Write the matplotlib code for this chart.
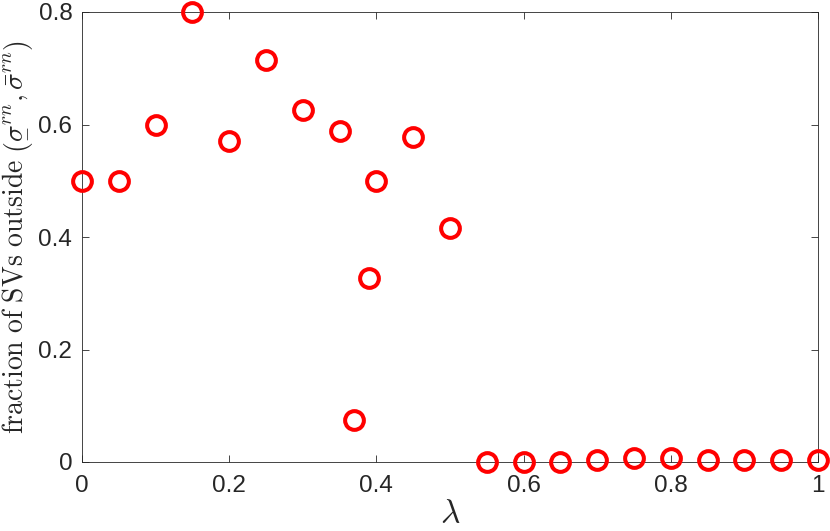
import matplotlib
matplotlib.use('Agg')
import matplotlib.pyplot as plt

# lambda values and fraction of SVs outside the interval
lam = [0.0, 0.05, 0.1, 0.15, 0.2, 0.25, 0.3, 0.35, 0.37, 0.39, 0.4, 0.45, 0.5,
       0.55, 0.6, 0.65, 0.7, 0.75, 0.8, 0.85, 0.9, 0.95, 1.0]
frac = [0.5, 0.5, 0.6, 0.8, 0.5714, 0.7143, 0.625, 0.5882, 0.075, 0.327, 0.5, 0.5778, 0.4167,
        0.0, 0.0, 0.0, 0.004, 0.008, 0.007, 0.004, 0.004, 0.004, 0.004]
xticks = [0, 0.2, 0.4, 0.6, 0.8, 1]
xticklabels = ['0', '0.2', '0.4', '0.6', '0.8', '1']
yticks = [0, 0.2, 0.4, 0.6, 0.8]
yticklabels = ['0', '0.2', '0.4', '0.6', '0.8']

plt.rcParams['mathtext.fontset'] = 'cm'
plt.rcParams['font.family'] = ['Liberation Sans', 'DejaVu Sans']

fig = plt.figure(figsize=(8.3, 5.31), dpi=100)
ax = fig.add_axes([82 / 830, 69 / 531, 736 / 830, 450 / 531])

ax.plot(lam, frac, linestyle='none', marker='o', markersize=13.5,
        markerfacecolor='none', markeredgecolor='#ff0000', markeredgewidth=2.9,
        clip_on=False, zorder=5)

ax.set_xlim(0, 1)
ax.set_ylim(0, 0.8)
ax.set_xticks(xticks)
ax.set_xticklabels(xticklabels)
ax.set_yticks(yticks)
ax.set_yticklabels(yticklabels)

for s in ax.spines.values():
    s.set_color('#262626')
    s.set_linewidth(0.6)
ax.tick_params(direction='in', length=5, width=0.6, color='#262626',
               labelcolor='#262626', labelsize=17.5, top=True, right=True)
ax.tick_params(axis='x', pad=9)
ax.tick_params(axis='y', pad=7)

ax.set_ylabel(r'$\mathrm{fraction\ of\ SVs\ outside}\ \left(\underset{-}{\sigma}^{rn}, \bar{\sigma}^{rn}\right)$',
              fontsize=20, color='#262626', labelpad=2)
ax.set_xlabel(r'$\lambda$', fontsize=24, color='#262626', labelpad=2)

fig.savefig('out.png', dpi=100)
